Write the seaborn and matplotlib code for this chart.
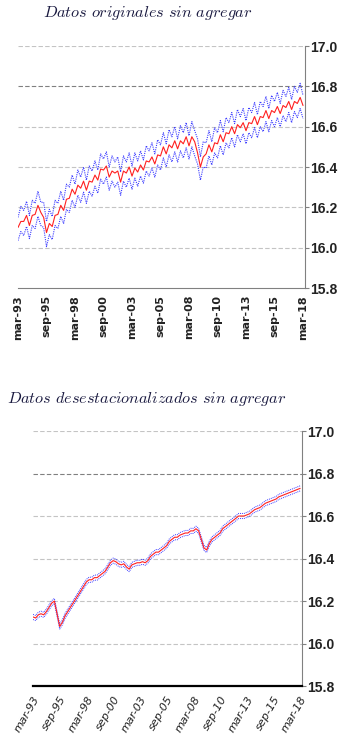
import numpy as np
import pandas as pd
import matplotlib
matplotlib.use("Agg")
import matplotlib.pyplot as plt
import seaborn as sns

# --- Data (quarterly, mar-93 .. mar-18) ---
tick_labels = ["mar-93", "sep-95", "mar-98", "sep-00", "mar-03", "sep-05",
               "mar-08", "sep-10", "mar-13", "sep-15", "mar-18"]

orig_mid = [16.100, 16.130, 16.130, 16.160, 16.110, 16.160, 16.165, 16.210, 16.175, 16.150,
            16.075, 16.120, 16.105, 16.160, 16.165, 16.210, 16.185, 16.240, 16.245, 16.290,
            16.265, 16.310, 16.295, 16.330, 16.285, 16.330, 16.325, 16.360, 16.335, 16.390,
            16.385, 16.405, 16.350, 16.380, 16.370, 16.380, 16.325, 16.380, 16.370, 16.400,
            16.355, 16.395, 16.375, 16.410, 16.385, 16.430, 16.425, 16.450, 16.415, 16.460,
            16.455, 16.500, 16.465, 16.510, 16.495, 16.530, 16.490, 16.530, 16.515, 16.550,
            16.505, 16.550, 16.525, 16.470, 16.400, 16.450, 16.465, 16.510, 16.475, 16.520,
            16.515, 16.560, 16.525, 16.570, 16.565, 16.600, 16.565, 16.610, 16.595, 16.620,
            16.580, 16.620, 16.615, 16.650, 16.610, 16.650, 16.645, 16.680, 16.640, 16.680,
            16.670, 16.700, 16.665, 16.705, 16.695, 16.725, 16.685, 16.725, 16.715, 16.745,
            16.705]

orig_hi = [16.150, 16.205, 16.185, 16.230, 16.160, 16.235, 16.220, 16.280, 16.225, 16.225,
           16.130, 16.190, 16.155, 16.235, 16.220, 16.280, 16.235, 16.315, 16.300, 16.360,
           16.315, 16.385, 16.350, 16.400, 16.335, 16.405, 16.380, 16.430, 16.385, 16.465,
           16.440, 16.475, 16.400, 16.455, 16.425, 16.450, 16.375, 16.455, 16.425, 16.470,
           16.405, 16.470, 16.430, 16.480, 16.435, 16.505, 16.480, 16.520, 16.465, 16.535,
           16.510, 16.570, 16.515, 16.585, 16.550, 16.600, 16.540, 16.605, 16.570, 16.620,
           16.555, 16.625, 16.580, 16.540, 16.450, 16.525, 16.520, 16.580, 16.525, 16.595,
           16.570, 16.630, 16.575, 16.645, 16.620, 16.670, 16.615, 16.685, 16.650, 16.690,
           16.630, 16.695, 16.670, 16.720, 16.660, 16.725, 16.700, 16.750, 16.690, 16.755,
           16.725, 16.770, 16.715, 16.780, 16.750, 16.795, 16.735, 16.800, 16.770, 16.815,
           16.755]

orig_lo = [16.035, 16.080, 16.060, 16.105, 16.045, 16.110, 16.095, 16.155, 16.110, 16.100,
           16.005, 16.065, 16.040, 16.110, 16.095, 16.155, 16.120, 16.190, 16.175, 16.235,
           16.200, 16.260, 16.225, 16.275, 16.220, 16.280, 16.255, 16.305, 16.270, 16.340,
           16.315, 16.350, 16.285, 16.330, 16.300, 16.325, 16.260, 16.330, 16.300, 16.345,
           16.290, 16.345, 16.305, 16.355, 16.320, 16.380, 16.355, 16.395, 16.350, 16.410,
           16.385, 16.445, 16.400, 16.460, 16.425, 16.475, 16.425, 16.480, 16.445, 16.495,
           16.440, 16.500, 16.455, 16.415, 16.335, 16.400, 16.395, 16.455, 16.410, 16.470,
           16.445, 16.505, 16.460, 16.520, 16.495, 16.545, 16.500, 16.560, 16.525, 16.565,
           16.515, 16.570, 16.545, 16.595, 16.545, 16.600, 16.575, 16.625, 16.575, 16.630,
           16.600, 16.645, 16.600, 16.655, 16.625, 16.670, 16.620, 16.675, 16.645, 16.690,
           16.640]

sa_mid = [16.125, 16.120, 16.135, 16.140, 16.135, 16.150, 16.170, 16.190, 16.200, 16.140,
          16.080, 16.100, 16.130, 16.150, 16.170, 16.190, 16.210, 16.230, 16.250, 16.270,
          16.290, 16.300, 16.300, 16.310, 16.310, 16.320, 16.330, 16.340, 16.360, 16.380,
          16.390, 16.385, 16.375, 16.370, 16.375, 16.360, 16.350, 16.370, 16.375, 16.380,
          16.380, 16.385, 16.380, 16.390, 16.410, 16.420, 16.430, 16.430, 16.440, 16.450,
          16.460, 16.480, 16.490, 16.500, 16.500, 16.510, 16.515, 16.520, 16.520, 16.530,
          16.530, 16.540, 16.530, 16.490, 16.450, 16.440, 16.470, 16.490, 16.500, 16.510,
          16.520, 16.540, 16.550, 16.560, 16.570, 16.580, 16.590, 16.600, 16.600, 16.600,
          16.605, 16.610, 16.620, 16.630, 16.635, 16.640, 16.650, 16.660, 16.665, 16.670,
          16.675, 16.680, 16.690, 16.695, 16.700, 16.705, 16.710, 16.715, 16.720, 16.725,
          16.730]

sa_hi = [16.137, 16.132, 16.147, 16.152, 16.147, 16.162, 16.182, 16.202, 16.212, 16.152,
         16.092, 16.112, 16.142, 16.162, 16.182, 16.202, 16.222, 16.242, 16.262, 16.282,
         16.302, 16.312, 16.312, 16.322, 16.322, 16.332, 16.342, 16.352, 16.372, 16.392,
         16.402, 16.397, 16.387, 16.382, 16.387, 16.372, 16.362, 16.382, 16.387, 16.392,
         16.392, 16.397, 16.392, 16.402, 16.422, 16.432, 16.442, 16.442, 16.452, 16.462,
         16.472, 16.492, 16.502, 16.512, 16.512, 16.522, 16.527, 16.532, 16.532, 16.542,
         16.542, 16.552, 16.542, 16.502, 16.462, 16.452, 16.482, 16.502, 16.512, 16.522,
         16.532, 16.552, 16.562, 16.572, 16.582, 16.592, 16.602, 16.612, 16.612, 16.612,
         16.617, 16.622, 16.632, 16.642, 16.647, 16.652, 16.662, 16.672, 16.677, 16.682,
         16.687, 16.692, 16.702, 16.707, 16.712, 16.717, 16.722, 16.727, 16.732, 16.737,
         16.742]

sa_lo = [16.113, 16.108, 16.123, 16.128, 16.123, 16.138, 16.158, 16.178, 16.188, 16.128,
         16.068, 16.088, 16.118, 16.138, 16.158, 16.178, 16.198, 16.218, 16.238, 16.258,
         16.278, 16.288, 16.288, 16.298, 16.298, 16.308, 16.318, 16.328, 16.348, 16.368,
         16.378, 16.373, 16.363, 16.358, 16.363, 16.348, 16.338, 16.358, 16.363, 16.368,
         16.368, 16.373, 16.368, 16.378, 16.398, 16.408, 16.418, 16.418, 16.428, 16.438,
         16.448, 16.468, 16.478, 16.488, 16.488, 16.498, 16.503, 16.508, 16.508, 16.518,
         16.518, 16.528, 16.518, 16.478, 16.438, 16.428, 16.458, 16.478, 16.488, 16.498,
         16.508, 16.528, 16.538, 16.548, 16.558, 16.568, 16.578, 16.588, 16.588, 16.588,
         16.593, 16.598, 16.608, 16.618, 16.623, 16.628, 16.638, 16.648, 16.653, 16.658,
         16.663, 16.668, 16.678, 16.683, 16.688, 16.693, 16.698, 16.703, 16.708, 16.713,
         16.718]

yticks = [15.8, 16.0, 16.2, 16.4, 16.6, 16.8, 17.0]

sns.set_style("white")
plt.rcParams['mathtext.fontset'] = 'cm'
num_font = ['Liberation Sans Narrow', 'Liberation Sans', 'DejaVu Sans']

q = np.arange(len(orig_mid))
tick_pos = np.arange(0, len(orig_mid), 10)

fig = plt.figure(figsize=(3.46, 7.44), dpi=100)
ax1 = fig.add_axes([18 / 346, 1 - 288 / 744, 287 / 346, 242 / 744])
ax2 = fig.add_axes([33 / 346, 1 - 686 / 744, 269 / 346, 255 / 744])


def draw(ax, mid, hi, lo, lw_band):
    sns.lineplot(x=q, y=hi, ax=ax, color="#3b3bff", linestyle=(0, (1, 1)), linewidth=lw_band)
    sns.lineplot(x=q, y=lo, ax=ax, color="#3b3bff", linestyle=(0, (1, 1)), linewidth=lw_band)
    sns.lineplot(x=q, y=mid, ax=ax, color="#ff2020", linewidth=0.8)
    ax.set_ylim(15.8, 17.0)
    ax.set_xlim(0, 100.7)
    ax.yaxis.tick_right()
    ax.set_yticks(yticks)
    ax.set_yticklabels([f"{v:.1f}" for v in yticks], family=num_font,
                       fontsize=10, fontweight='bold', color="#222222")
    for v in yticks[1:]:
        c = "#808080" if v == 16.8 else "#c4c4c4"
        ax.axhline(v, color=c, linestyle=(0, (4, 2)), linewidth=0.8, zorder=0)
    ax.set_xticks(tick_pos)
    for s in ["left", "top"]:
        ax.spines[s].set_visible(False)
    ax.spines["right"].set_color("#808080")
    ax.spines["right"].set_linewidth(0.8)
    ax.tick_params(axis='y', length=3, width=0.8, color="#808080", pad=1)
    ax.set_xlabel("")
    ax.set_ylabel("")


draw(ax1, orig_mid, orig_hi, orig_lo, 0.8)
ax1.spines["bottom"].set_color("#808080")
ax1.spines["bottom"].set_linewidth(0.8)
ax1.set_xticklabels(tick_labels, rotation=90, fontsize=8, fontweight='bold',
                    color="#222222", va='top', ha='center')
ax1.tick_params(axis='x', length=3, width=0.8, color="#808080", pad=2)

draw(ax2, sa_mid, sa_hi, sa_lo, 0.7)
ax2.spines["bottom"].set_color("#000000")
ax2.spines["bottom"].set_linewidth(1.6)
ax2.set_xticklabels(tick_labels, rotation=60, fontsize=8, style='italic',
                    color="#222222", ha='right', rotation_mode='anchor')
ax2.tick_params(axis='x', length=4, width=1.0, color="#000000", pad=2)

fig.text(148 / 346, 1 - 13 / 744, r"$\mathit{Datos\ originales\ sin\ agregar}$",
         ha='center', va='center', fontsize=11.7, color="#1a1a40")
fig.text(147 / 346, 1 - 399 / 744, r"$\mathit{Datos\ desestacionalizados\ sin\ agregar}$",
         ha='center', va='center', fontsize=11.7, color="#1a1a40")

plt.savefig("out.png", dpi=100)
